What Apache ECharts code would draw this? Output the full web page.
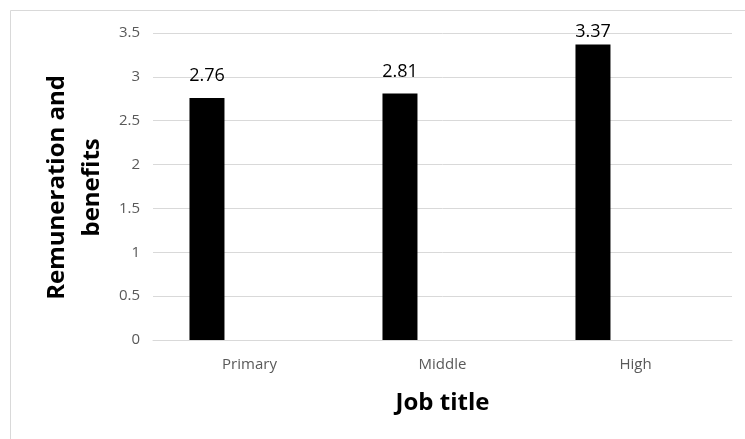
<!DOCTYPE html>
<html>
<head>
<meta charset="utf-8">
<script src="https://cdn.jsdelivr.net/npm/echarts@6/dist/echarts.min.js"></script>
<style>
  html, body { margin: 0; padding: 0; background: #ffffff; }
  #chart { width: 745px; height: 439px; }
</style>
</head>
<body>
<div id="chart"></div>
<script>
// Job title categories and mean remuneration & benefits scores
const categories = ['Primary', 'Middle', 'High'];
const scores = [2.76, 2.81, 3.37];
// Empty companion series keeps each bar left of its category centre
const spacer = ['-', '-', '-'];
const yTicks = { min: 0, max: 3.5, interval: 0.5 };

const font = '"Open Sans", "Noto Sans", sans-serif';
const chart = echarts.init(document.getElementById('chart'), null, { renderer: 'canvas' });

// Labels sit above each bar; one near the top edge is tucked in closer
const barData = scores.map(function (v) {
  return v > yTicks.max - 0.25
    ? { value: v, label: { distance: 4 } }
    : v;
});

chart.setOption({
  animation: false,
  backgroundColor: '#ffffff',
  graphic: [{
    type: 'rect',
    shape: { x: 10.5, y: 10.5, width: 800, height: 600 },
    style: { fill: 'none', stroke: '#d9d9d9', lineWidth: 1 },
    silent: true,
    z: -1
  }, {
    // vertical axis title, centred on the plot area
    type: 'text',
    left: 40,
    top: 75,
    rotation: Math.PI / 2,
    style: {
      text: 'Remuneration and\nbenefits',
      font: 'bold 24px ' + font,
      fill: '#000000',
      textAlign: 'center',
      lineHeight: 35
    }
  }],
  grid: { left: 153, right: 13, top: 33, bottom: 99 },
  xAxis: {
    type: 'category',
    data: categories,
    axisLine: { show: true, lineStyle: { color: '#d9d9d9', width: 1 } },
    axisTick: { show: false },
    axisLabel: { color: '#595959', fontFamily: font, fontSize: 15, margin: 17 },
    name: 'Job title',
    nameLocation: 'middle',
    nameGap: 51,
    nameTextStyle: { color: '#000000', fontFamily: font, fontSize: 24, fontWeight: 'bold' }
  },
  yAxis: {
    type: 'value',
    min: yTicks.min,
    max: yTicks.max,
    interval: yTicks.interval,
    axisLine: { show: false },
    axisTick: { show: false },
    splitLine: { lineStyle: { color: '#d9d9d9', width: 1 } },
    axisLabel: { color: '#595959', fontFamily: font, fontSize: 15, margin: 13 }
  },
  series: [{
    type: 'bar',
    data: barData,
    barWidth: 35,
    barGap: '143%',
    itemStyle: { color: '#000000' },
    label: {
      show: true,
      position: 'top',
      distance: 13,
      color: '#000000',
      fontFamily: font,
      fontSize: 18
    }
  }, {
    type: 'bar',
    data: spacer,
    barWidth: 35,
    itemStyle: { color: '#000000' }
  }]
});
</script>
</body>
</html>
